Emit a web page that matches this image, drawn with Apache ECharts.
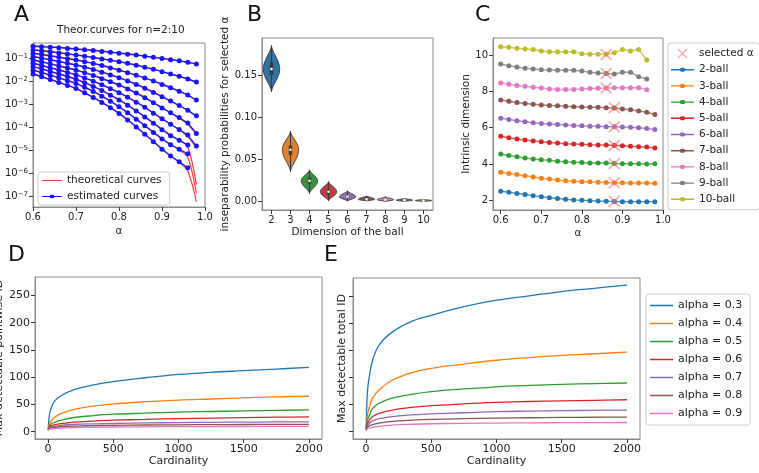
<!DOCTYPE html>
<html>
<head>
<meta charset="utf-8">
<script src="https://cdn.jsdelivr.net/npm/echarts@6/dist/echarts.min.js"></script>
<style>
body { margin: 0; background: #fff; }
#main { width: 759px; height: 473px; }
</style>
</head>
<body>
<div id="main"></div>
<script>
var FONT = 'DejaVu Sans';

// panel A : log10 of inseparability probability, alpha = 0.60 .. 0.98
var alphaGrid = [0.60,0.62,0.64,0.66,0.68,0.70,0.72,0.74,0.76,0.78,0.80,0.82,0.84,0.86,0.88,0.90,0.92,0.94,0.96,0.98];
var est2 = [-0.46,-0.48,-0.50,-0.52,-0.55,-0.58,-0.61,-0.64,-0.68,-0.72,-0.76,-0.80,-0.84,-0.89,-0.94,-0.99,-1.04,-1.09,-1.15,-1.23];
var est3 = [-0.62,-0.66,-0.70,-0.75,-0.79,-0.84,-0.89,-0.95,-1.01,-1.07,-1.13,-1.20,-1.28,-1.37,-1.46,-1.57,-1.67,-1.77,-1.88,-2.02];
var est4 = [-0.77,-0.82,-0.88,-0.94,-1.00,-1.06,-1.13,-1.21,-1.30,-1.40,-1.50,-1.61,-1.72,-1.84,-1.97,-2.12,-2.27,-2.42,-2.58,-2.80];
var est5 = [-0.91,-0.98,-1.05,-1.13,-1.20,-1.28,-1.37,-1.47,-1.59,-1.71,-1.83,-1.97,-2.12,-2.29,-2.47,-2.66,-2.85,-3.04,-3.25,-3.49];
var est6 = [-1.06,-1.14,-1.23,-1.32,-1.41,-1.50,-1.61,-1.73,-1.87,-2.01,-2.15,-2.32,-2.50,-2.70,-2.92,-3.15,-3.36,-3.57,-3.80,-4.26];
var est7 = [-1.20,-1.30,-1.40,-1.50,-1.60,-1.71,-1.84,-1.98,-2.14,-2.31,-2.48,-2.68,-2.90,-3.12,-3.38,-3.62,-3.86,-4.09,-4.33,-4.81];
var est8 = [-1.35,-1.45,-1.56,-1.67,-1.78,-1.90,-2.05,-2.21,-2.39,-2.59,-2.80,-3.03,-3.28,-3.54,-3.82,-4.10,-4.36,-4.56,-4.77];
var est9 = [-1.50,-1.61,-1.72,-1.84,-1.96,-2.08,-2.25,-2.43,-2.64,-2.86,-3.10,-3.36,-3.64,-3.93,-4.22,-4.50,-4.75,-4.95,-5.15];
var est10 = [-1.67,-1.79,-1.91,-2.04,-2.17,-2.30,-2.49,-2.69,-2.91,-3.14,-3.39,-3.67,-3.98,-4.30,-4.62,-4.95,-5.25,-5.50,-5.76];

var theo2 = [-0.43,-0.45,-0.47,-0.50,-0.53,-0.56,-0.59,-0.62,-0.66,-0.70,-0.74,-0.78,-0.83,-0.88,-0.93,-0.98,-1.03,-1.09,-1.16,-1.24];
var theo3 = [-0.60,-0.64,-0.68,-0.73,-0.78,-0.83,-0.88,-0.94,-1.00,-1.06,-1.12,-1.19,-1.27,-1.36,-1.45,-1.55,-1.66,-1.77,-1.89,-2.03];
var theo4 = [-0.75,-0.80,-0.86,-0.92,-0.98,-1.04,-1.11,-1.19,-1.28,-1.38,-1.48,-1.59,-1.71,-1.83,-1.96,-2.10,-2.25,-2.41,-2.59,-2.82];
var theo5 = [-0.89,-0.96,-1.03,-1.11,-1.18,-1.26,-1.35,-1.45,-1.57,-1.69,-1.81,-1.95,-2.10,-2.27,-2.45,-2.64,-2.84,-3.04,-3.26,-3.53];
var theo6 = [-1.04,-1.12,-1.21,-1.30,-1.39,-1.48,-1.59,-1.71,-1.85,-1.99,-2.13,-2.30,-2.48,-2.68,-2.90,-3.13,-3.36,-3.60,-3.87,-4.30];
var theo7 = [-1.18,-1.28,-1.38,-1.48,-1.58,-1.69,-1.82,-1.96,-2.12,-2.29,-2.46,-2.66,-2.88,-3.11,-3.36,-3.61,-3.86,-4.10,-4.40,-4.90];
var theo8 = [-1.33,-1.43,-1.54,-1.65,-1.76,-1.88,-2.03,-2.19,-2.37,-2.57,-2.78,-3.01,-3.26,-3.52,-3.79,-4.07,-4.33,-4.55,-4.85,-6.50];
var theo9 = [-1.48,-1.59,-1.70,-1.82,-1.94,-2.06,-2.23,-2.41,-2.62,-2.84,-3.08,-3.34,-3.62,-3.91,-4.20,-4.48,-4.74,-4.98,-5.30,-6.87];
var theo10 = [-1.65,-1.77,-1.89,-2.02,-2.15,-2.28,-2.47,-2.67,-2.89,-3.12,-3.37,-3.65,-3.96,-4.28,-4.60,-4.93,-5.24,-5.52,-5.90,-7.24];
var decadeTicks = [-7, -6, -5, -4, -3, -2, -1];

// panel B : violins per ball dimension
var ballDims = ['2','3','4','5','6','7','8','9','10'];
var vLo  = [0.130, 0.035, 0.009, 0.000, 0.000, 0.000, -0.0005, -0.0005, -0.0005];
var vQ1  = [0.150, 0.055, 0.021, 0.008, 0.004, 0.0015, 0.0010, 0.0005, 0.0003];
var vMed = [0.157, 0.061, 0.024, 0.011, 0.005, 0.0020, 0.0015, 0.0010, 0.0005];
var vQ3  = [0.165, 0.066, 0.028, 0.013, 0.006, 0.0030, 0.0020, 0.0015, 0.0008];
var vHi  = [0.185, 0.083, 0.037, 0.023, 0.012, 0.0060, 0.0050, 0.0030, 0.0020];
var violinColors = ['#3274a1','#e1812c','#3a923a','#c03d3e','#9372b2','#845b53','#d684bd','#7f7f7f','#a9aa35'];

// panel C : intrinsic dimension estimates
var c2 = [2.50,2.45,2.38,2.32,2.25,2.20,2.15,2.10,2.06,2.02,2.00,1.98,1.96,1.95,1.94,1.93,1.93,1.92,1.92,1.92];
var c3 = [3.55,3.48,3.42,3.35,3.28,3.22,3.18,3.12,3.08,3.05,3.03,3.02,3.00,2.98,2.97,2.97,2.96,2.95,2.95,2.94];
var c4 = [4.55,4.47,4.40,4.33,4.28,4.23,4.20,4.15,4.12,4.10,4.08,4.06,4.05,4.05,4.03,4.02,4.02,4.01,4.00,4.02];
var c5 = [5.52,5.45,5.38,5.32,5.27,5.22,5.18,5.15,5.12,5.10,5.08,5.06,5.05,5.04,5.02,5.00,4.98,4.95,4.93,4.88];
var c6 = [6.52,6.45,6.38,6.33,6.27,6.23,6.20,6.17,6.15,6.12,6.10,6.08,6.07,6.05,6.05,6.03,6.02,6.00,5.95,5.90];
var c7 = [7.52,7.45,7.38,7.33,7.28,7.25,7.22,7.20,7.17,7.15,7.13,7.12,7.12,7.10,7.08,7.02,6.98,6.92,6.85,6.72];
var c8 = [8.45,8.38,8.32,8.28,8.22,8.18,8.12,8.10,8.10,8.10,8.12,8.15,8.17,8.18,8.20,8.20,8.20,8.20,8.08];
var c9 = [9.50,9.40,9.33,9.27,9.23,9.18,9.17,9.15,9.15,9.15,9.12,9.05,9.00,8.98,8.95,9.05,9.05,8.80,8.68];
var c10 = [10.45,10.42,10.37,10.33,10.30,10.22,10.18,10.17,10.17,10.17,10.07,10.03,10.03,10.03,10.12,10.30,10.22,10.30,9.72];
var selAlpha = [0.88,0.88,0.88,0.88,0.88,0.88,0.86,0.86,0.86];
var selDim = [1.95,2.97,4.02,5.02,6.05,7.10,8.18,8.98,10.02];
var ballNames = ['2-ball','3-ball','4-ball','5-ball','6-ball','7-ball','8-ball','9-ball','10-ball'];
var alphaTicks = [0.6, 0.7, 0.8, 0.9, 1.0];
var dimTicks = [2, 4, 6, 8, 10];
var probTicks = [0, 0.05, 0.1, 0.15];

// panels D and E : max detectable ID vs cardinality
var cardinality = [1,10,25,50,100,200,350,500,750,1000,1250,1500,1750,2000];
var alphaNames = ['alpha = 0.3','alpha = 0.4','alpha = 0.5','alpha = 0.6','alpha = 0.7','alpha = 0.8','alpha = 0.9'];
var d03 = [4,30,44,56,66,77,86,92,99,105,109,112,115,118];
var d04 = [4,13,20,26,33,41,47,51,55,58,60,62,64,65];
var d05 = [4,10,14,17,21,26,29.5,32,34,36,37,38,39,40];
var d06 = [3,7.5,10.5,12.5,14.6,17.5,19.5,21,22.5,24,25,25.8,26.5,27];
var d07 = [3,6,8,9.5,11.6,13.2,14.3,15,16,16.6,17.1,17.5,17.8,18];
var d08 = [3,5,6.5,7.7,9,10.3,11,11.6,12.2,12.6,12.9,13.1,13.3,13.4];
var d09 = [2.5,4,5,5.8,6.7,7.5,8.1,8.5,8.9,9.2,9.4,9.5,9.6,9.7];
var e03 = [5,72,102,132,160,184,204,215,231,243,251,259,265,271];
var e04 = [4,30,45,62,77,95,109,117,125,132,137,141,144,147];
var e05 = [4,20,30,43,52.6,62,69,74,79,83,85.5,87.5,89,90];
var e06 = [3.5,14,21,28,34,40,45,48,51.5,54,55.8,57,58,59];
var e07 = [3,10,15.5,20,24,28,31,33,35,37,38,38.8,39.5,40];
var e08 = [3,8,11,13,16,19,21.2,22.6,24,25,25.8,26.3,26.7,27];
var e09 = [2.5,5,7,8,10,12.3,13.8,14.7,15.5,16,16.4,16.7,16.9,17];
var cardTicks = [0, 500, 1000, 1500, 2000];
var idTicks = [0, 50, 100, 150, 200, 250];

var tab10 = ['#1f77b4','#ff7f0e','#2ca02c','#d62728','#9467bd','#8c564b','#e377c2','#7f7f7f','#bcbd22'];
var FRAME = '#8a8a8a';

// legend icons: plain line, and line with a small dot
var ICON_LINE = 'path://M0,0L0.01,0L0.01,0.01Z M0,4.3H23V5.7H0Z M0,10L0.01,10L0.01,10.01Z';
var ICON_LINE_DOT = 'path://M0,0L0.01,0L0.01,0.01Z M0,4.3H23V5.7H0Z M10,3L13,3L14.2,4.2L14.2,5.8L13,7L10,7L8.8,5.8L8.8,4.2Z M0,10L0.01,10L0.01,10.01Z';

function axis(extra) {
	var ax = {
		axisLine: {show: true, onZero: false, lineStyle: {color: FRAME, width: 1}},
		axisTick: {show: true, length: 4, lineStyle: {color: '#333', width: 1}},
		axisLabel: {color: '#222', fontFamily: FONT, fontSize: 10, margin: 5},
		splitLine: {show: false},
		nameLocation: 'middle',
		nameTextStyle: {color: '#222', fontFamily: FONT, fontSize: 10.5}
	};
	for (var k in extra) {
		if (ax[k] && typeof ax[k] === 'object' && typeof extra[k] === 'object') {
			for (var j in extra[k]) ax[k][j] = extra[k][j];
		} else {
			ax[k] = extra[k];
		}
	}
	return ax;
}

function pairs(xs, ys, fn) {
	var out = [];
	for (var i = 0; i < ys.length; i++) out.push([xs[i], fn ? fn(ys[i]) : ys[i]]);
	return out;
}
function pow10(v) { return Math.pow(10, v); }

function renderViolin(params, api) {
	var idx = api.value(0);
	var lo = api.value(1), q1 = api.value(2), med = api.value(3), q3 = api.value(4), hi = api.value(5);
	var halfW = api.size([1, 0])[0] * 0.43;
	var right = [], left = [];
	var N = 40;
	for (var i = 0; i <= N; i++) {
		var v = lo + (hi - lo) * i / N;
		var f = v < med ? Math.sin((v - lo) / (med - lo) * Math.PI / 2) : Math.sin((hi - v) / (hi - med) * Math.PI / 2);
		f = Math.pow(Math.max(f, 0), 1.6);
		var c = api.coord([idx, v]);
		right.push([c[0] + halfW * f, c[1]]);
		left.unshift([c[0] - halfW * f, c[1]]);
	}
	var pLo = api.coord([idx, lo]), pHi = api.coord([idx, hi]);
	var pQ1 = api.coord([idx, q1]), pQ3 = api.coord([idx, q3]), pMed = api.coord([idx, med]);
	return {
		type: 'group',
		children: [
			{type: 'polygon', shape: {points: right.concat(left)},
				style: {fill: violinColors[params.dataIndex], stroke: '#3a3a3a', lineWidth: 1}},
			{type: 'line', shape: {x1: pLo[0], y1: pLo[1], x2: pHi[0], y2: pHi[1]},
				style: {stroke: '#3a3a3a', lineWidth: 1}},
			{type: 'line', shape: {x1: pQ1[0], y1: pQ1[1], x2: pQ3[0], y2: pQ3[1]},
				style: {stroke: '#3a3a3a', lineWidth: 3.5}},
			{type: 'circle', shape: {cx: pMed[0], cy: pMed[1], r: 1.3}, style: {fill: '#fff'}}
		]
	};
}

var estCurves = [est2, est3, est4, est5, est6, est7, est8, est9, est10];
var theoCurves = [theo2, theo3, theo4, theo5, theo6, theo7, theo8, theo9, theo10];
var ballCurves = [c2, c3, c4, c5, c6, c7, c8, c9, c10];
var pointwise = [d03, d04, d05, d06, d07, d08, d09];
var total = [e03, e04, e05, e06, e07, e08, e09];

var series = [];
theoCurves.forEach(function (arr) {
	series.push({type: 'line', name: 'theoretical curves', xAxisIndex: 0, yAxisIndex: 0,
		data: pairs(alphaGrid, arr, pow10), symbol: 'none', smooth: 0.3,
		lineStyle: {color: '#f23a3a', width: 1.2}, itemStyle: {color: '#f23a3a'}});
});
estCurves.forEach(function (arr) {
	series.push({type: 'line', name: 'estimated curves', xAxisIndex: 0, yAxisIndex: 0,
		data: pairs(alphaGrid, arr, pow10), symbol: 'circle', symbolSize: 5, showAllSymbol: true,
		lineStyle: {color: '#1515ff', width: 1.2}, itemStyle: {color: '#1515ff'}});
});

var violinData = [];
for (var i = 0; i < ballDims.length; i++) violinData.push([i, vLo[i], vQ1[i], vMed[i], vQ3[i], vHi[i]]);
series.push({type: 'custom', xAxisIndex: 1, yAxisIndex: 1, renderItem: renderViolin,
	encode: {x: 0, y: [1, 2, 3, 4, 5]}, data: violinData});

ballCurves.forEach(function (arr, i) {
	series.push({type: 'line', name: ballNames[i], xAxisIndex: 2, yAxisIndex: 2,
		data: pairs(alphaGrid, arr), symbol: 'circle', symbolSize: 5, showAllSymbol: true,
		lineStyle: {color: tab10[i], width: 1.5, opacity: 0.75}, itemStyle: {color: tab10[i]}});
});
series.push({type: 'scatter', name: 'selected α', xAxisIndex: 2, yAxisIndex: 2, z: 5,
	symbol: 'path://M0,1L1,0L5,4L9,0L10,1L6,5L10,9L9,10L5,6L1,10L0,9L4,5Z', symbolSize: 12,
	itemStyle: {color: 'rgba(255,110,110,0.75)'}, data: pairs(selAlpha, selDim)});

pointwise.forEach(function (arr, i) {
	series.push({type: 'line', name: alphaNames[i], xAxisIndex: 3, yAxisIndex: 3,
		data: pairs(cardinality, arr), symbol: 'none', smooth: 0.4,
		lineStyle: {color: tab10[i], width: 1.3}, itemStyle: {color: tab10[i]}});
});
total.forEach(function (arr, i) {
	series.push({type: 'line', name: alphaNames[i], xAxisIndex: 4, yAxisIndex: 4,
		data: pairs(cardinality, arr), symbol: 'none', smooth: 0.4,
		lineStyle: {color: tab10[i], width: 1.3}, itemStyle: {color: tab10[i]}});
});

function letter(t, x, y) {
	return {text: t, left: x, top: y, padding: 0,
		textStyle: {fontFamily: FONT, fontSize: 22, fontWeight: 'normal', color: '#111'}};
}

function grid(l, t, w, h) {
	return {left: l, top: t, width: w, height: h, show: true, borderColor: FRAME,
		borderWidth: 1, backgroundColor: 'transparent', containLabel: false, outerBoundsMode: 'none'};
}

function legendData(names, icon) {
	return names.map(function (n) { return {name: n, icon: icon}; });
}

var option = {
	animation: false,
	backgroundColor: '#fff',
	title: [
		letter('A', 14, 4), letter('B', 247, 4), letter('C', 475, 4),
		letter('D', 8, 244), letter('E', 324, 244),
		{text: 'Theor.curves for n=2:10', left: 57, top: 25, padding: 0,
			textStyle: {fontFamily: FONT, fontSize: 10.5, fontWeight: 'normal', color: '#222'}}
	],
	grid: [
		grid(33, 43, 172, 164),
		grid(262, 38, 171, 172),
		grid(493, 38, 170, 172),
		grid(35, 277, 287, 162),
		grid(353, 278, 287, 161)
	],
	xAxis: [
		axis({type: 'value', gridIndex: 0, min: 0.6, max: 1.0, interval: 0.1, name: 'α', nameGap: 19,
			axisLabel: {formatter: function (v) { return v.toFixed(1); }}}),
		axis({type: 'category', gridIndex: 1, data: ballDims, name: 'Dimension of the ball', nameGap: 17,
			axisTick: {alignWithLabel: true}, axisLabel: {interval: 0}}),
		axis({type: 'value', gridIndex: 2, min: 0.581, max: 1.0, name: 'α', nameGap: 18,
			axisTick: {customValues: alphaTicks},
			axisLabel: {customValues: alphaTicks, formatter: function (v) { return v.toFixed(1); }}}),
		axis({type: 'value', gridIndex: 3, min: -100, max: 2100, name: 'Cardinality', nameGap: 17,
			axisTick: {customValues: cardTicks},
			axisLabel: {customValues: cardTicks, fontSize: 11, formatter: function (v) { return String(v); }},
			nameTextStyle: {fontSize: 11}}),
		axis({type: 'value', gridIndex: 4, min: -100, max: 2100, name: 'Cardinality', nameGap: 17,
			axisTick: {customValues: cardTicks},
			axisLabel: {customValues: cardTicks, fontSize: 11, formatter: function (v) { return String(v); }},
			nameTextStyle: {fontSize: 11}})
	],
	yAxis: [
		axis({type: 'log', logBase: 10, gridIndex: 0, min: Math.pow(10, -7.47), max: Math.pow(10, -0.314),
			name: 'Inseparability probability', nameGap: 28,
			axisLabel: {showMinLabel: false, showMaxLabel: false, formatter: function (v) {
				var e = Math.log10(v);
				if (decadeTicks.indexOf(Math.round(e)) < 0 || Math.abs(e - Math.round(e)) > 0.01) return '';
				return '10{e|−' + Math.round(-e) + '}';
			}, rich: {e: {fontSize: 7, verticalAlign: 'top', padding: [0, 0, 5, 0]}}}}),
		axis({type: 'value', gridIndex: 1, min: -0.0107, max: 0.194,
			name: 'inseparability probabilities for selected α', nameGap: 28,
			axisTick: {customValues: probTicks},
			axisLabel: {customValues: probTicks, formatter: function (v) { return v.toFixed(2); }}}),
		axis({type: 'value', gridIndex: 2, min: 1.47, max: 10.93, name: 'Intrinsic dimension', nameGap: 19,
			axisTick: {customValues: dimTicks},
			axisLabel: {customValues: dimTicks}}),
		axis({type: 'value', gridIndex: 3, min: -13.5, max: 284, name: 'Max detectable pointwise ID', nameGap: 27,
			axisTick: {customValues: idTicks},
			axisLabel: {customValues: idTicks, fontSize: 11},
			nameTextStyle: {fontSize: 11}}),
		axis({type: 'value', gridIndex: 4, min: -13.5, max: 284, name: 'Max detectable total ID', nameGap: 5,
			axisTick: {customValues: idTicks},
			axisLabel: {show: false},
			nameTextStyle: {fontSize: 11}})
	],
	legend: [
		{data: [{name: 'theoretical curves', icon: ICON_LINE}, {name: 'estimated curves', icon: ICON_LINE_DOT}],
			orient: 'vertical', left: 38, top: 172,
			itemWidth: 20, itemHeight: 10, itemGap: 5, padding: [3, 8, 3, 4],
			borderColor: '#cccccc', borderWidth: 1, borderRadius: 3, backgroundColor: 'rgba(255,255,255,0.85)',
			textStyle: {fontFamily: FONT, fontSize: 10.5, color: '#222'}},
		{data: [{name: 'selected α'}].concat(legendData(ballNames, ICON_LINE_DOT)), orient: 'vertical', left: 668, top: 43,
			itemWidth: 23, itemHeight: 10, itemGap: 5.2, padding: [5, 6, 5, 3],
			borderColor: '#cccccc', borderWidth: 1, borderRadius: 3,
			textStyle: {fontFamily: FONT, fontSize: 10.5, color: '#222'}},
		{data: legendData(alphaNames, ICON_LINE), orient: 'vertical', left: 646, top: 294,
			itemWidth: 23, itemHeight: 11, itemGap: 7, padding: [6, 8, 6, 4],
			borderColor: '#cccccc', borderWidth: 1, borderRadius: 3,
			textStyle: {fontFamily: FONT, fontSize: 11, color: '#222'}}
	],
	series: series
};

var chart = echarts.init(document.getElementById('main'));
chart.setOption(option);
</script>
</body>
</html>
